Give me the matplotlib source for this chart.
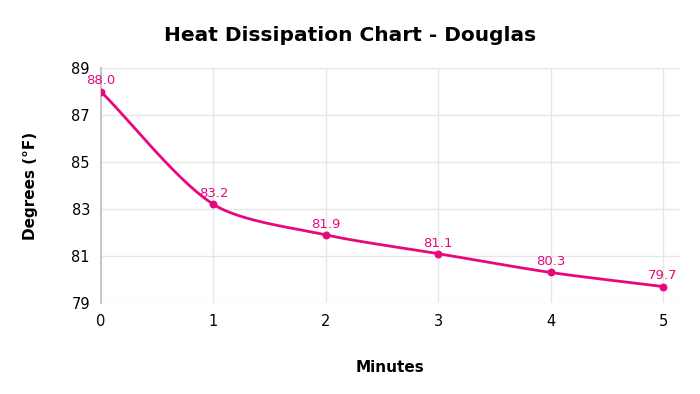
import numpy as np
import matplotlib
matplotlib.use("Agg")
import matplotlib.pyplot as plt

# ==========================
# data
# ==========================
minutes = [0, 1, 2, 3, 4, 5]
degrees = [88.0, 83.2, 81.9, 81.1, 80.3, 79.7]
y_ticks = [79, 81, 83, 85, 87, 89]

line_color = "#e6097e"
plt.rcParams["font.family"] = ["DejaVu Sans"]


def spline_curve(px, py, tension=0.4, n=40):
    # bezier spline through the points (in pixel space), drawing only
    px = np.asarray(px, float)
    py = np.asarray(py, float)
    k = len(px)
    c1, c2 = [], []
    for i in range(k):
        pi = max(i - 1, 0)
        ni = min(i + 1, k - 1)
        d01 = np.hypot(px[i] - px[pi], py[i] - py[pi])
        d12 = np.hypot(px[ni] - px[i], py[ni] - py[i])
        tot = d01 + d12 if d01 + d12 > 0 else 1
        fa = tension * d01 / tot
        fb = tension * d12 / tot
        dx, dy = px[ni] - px[pi], py[ni] - py[pi]
        c1.append((px[i] - fa * dx, py[i] - fa * dy))
        c2.append((px[i] + fb * dx, py[i] + fb * dy))
    xs, ys = [], []
    t = np.linspace(0, 1, n)
    for i in range(k - 1):
        p0 = np.array([px[i], py[i]])
        p1 = np.array(c2[i])
        p2 = np.array(c1[i + 1])
        p3 = np.array([px[i + 1], py[i + 1]])
        b = ((1 - t) ** 3)[:, None] * p0 + (3 * (1 - t) ** 2 * t)[:, None] * p1 \
            + (3 * (1 - t) * t ** 2)[:, None] * p2 + (t ** 3)[:, None] * p3
        xs.append(b[:, 0])
        ys.append(b[:, 1])
    return np.concatenate(xs), np.concatenate(ys)


fig = plt.figure(figsize=(7, 3.94), dpi=100)
ax = fig.add_axes([0.1443, 0.231, 0.827, 0.596])

ax.set_xlim(0, 5.15)
ax.set_ylim(79, 89)

# smooth line computed in display pixels, mapped back to data
pts = ax.transData.transform(np.column_stack([minutes, degrees]))
sx, sy = spline_curve(pts[:, 0], pts[:, 1], tension=0.28)
curve = ax.transData.inverted().transform(np.column_stack([sx, sy]))
ax.plot(curve[:, 0], curve[:, 1], color=line_color, linewidth=2, zorder=3)
ax.scatter(minutes, degrees, color=line_color, s=22, zorder=4)

for x, y in zip(minutes, degrees):
    ax.annotate(f"{y:.1f}", (x, y), xytext=(0, 3), textcoords="offset points",
                ha="center", va="bottom", color=line_color, fontsize=9.5)

ax.set_xticks(minutes)
ax.set_yticks(y_ticks)
ax.grid(True, color="#e6e6e6", linewidth=1)
ax.set_axisbelow(True)

for side in ["top", "right", "bottom"]:
    ax.spines[side].set_visible(False)
ax.spines["left"].set_color("#c8c8c8")
ax.spines["left"].set_linewidth(1.5)
ax.tick_params(length=0, labelsize=10.5, pad=8)

ax.set_xlabel("Minutes", fontsize=11, fontweight="bold", labelpad=22)
ax.set_ylabel("Degrees (°F)", fontsize=11, fontweight="bold", labelpad=24)
fig.suptitle("Heat Dissipation Chart - Douglas", fontsize=14.5, fontweight="bold", y=0.935)

fig.savefig("out.png", dpi=100)
